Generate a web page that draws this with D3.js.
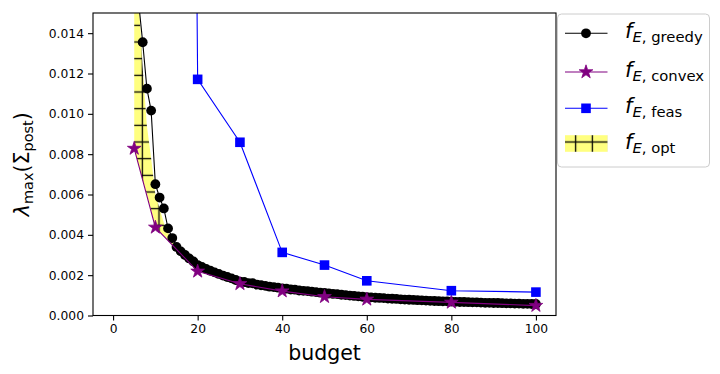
<!DOCTYPE html>
<html><head><meta charset="utf-8">
<script src="https://cdn.jsdelivr.net/npm/d3@7"></script>
<style>body{margin:0;background:#fff}svg{display:block}text{font-family:"DejaVu Sans",sans-serif}</style>
</head><body>
<svg id="c" width="720" height="374"></svg>
<script>
// ---- data ----
const greedyX = d3.range(5, 101);
const greedyY = [0.0300,0.0156,0.01355,0.01125,0.01016,0.00651,0.00585,0.00531,0.00432,0.00384,
 0.00340,0.00318,0.00300,0.00283,0.00268,0.00250,0.00241,0.00231,0.00222,0.00214,
 0.00206,0.00198,0.00191,0.00184,0.00176,0.00168,0.00166,0.00161,0.00160,0.00153,
 0.00150,0.00147,0.00143,0.00141,0.00138,0.00135,0.00133,0.00129,0.00128,0.00124,
 0.00122,0.00121,0.00118,0.00116,0.00113,0.00112,0.00109,0.00107,0.00106,0.00103,
 0.00101,0.00099,0.00097,0.00095,0.00093,0.00091,0.00090,0.00088,0.00087,0.00086,
 0.00084,0.00083,0.00082,0.00080,0.00079,0.00078,0.00077,0.00076,0.00075,0.00074,
 0.00073,0.00072,0.00071,0.00070,0.00070,0.00069,0.00068,0.00067,0.00067,0.00066,
 0.00065,0.00065,0.00064,0.00063,0.00063,0.00062,0.00062,0.00061,0.00060,0.00060,
 0.00059,0.00059,0.00058,0.00058,0.00057,0.00057];
const convexX = [5,10,20,30,40,50,60,80,100];
const convexY = [0.00828,0.00437,0.00219,0.00157,0.00121,0.00093,0.00080,0.00065,0.00049];
const feasX = [10,20,30,40,50,60,80,100];
const feasY = [0.25,0.01171,0.00859,0.00313,0.00250,0.00172,0.00123,0.00116];
const optX = [5,6,7,8,9,10,11,12,13,14,15,20];
const optLower = [0.00828,0.0075,0.0067,0.0060,0.0052,0.00437,0.00415,0.00394,0.00372,0.0035,0.00329,0.0022];
const optUpper = [0.0300,0.0158,0.0123,0.0094,0.0078,0.0060,0.0053,0.0046,0.0041,0.0037,0.0034,0.0024];
const xTicks = [0,20,40,60,80,100];
const yTicks = [0,0.002,0.004,0.006,0.008,0.010,0.012,0.014];

// ---- layout ----
const L=93, R=556, T=13, B=315.5;
const x = d3.scaleLinear([-4.75,104.75],[L,R]);
const y = d3.scaleLinear([0,0.015],[B,T]);
const svg = d3.select("#c");
const PER = 100/6;

const defs = svg.append("defs");
defs.append("clipPath").attr("id","clip").append("rect").attr("x",L).attr("y",T).attr("width",R-L).attr("height",B-T);
const pat = defs.append("pattern").attr("id","hatch").attr("patternUnits","userSpaceOnUse")
  .attr("x",9-PER/2).attr("y",8.67-PER/2).attr("width",PER).attr("height",PER);
pat.append("rect").attr("width",PER).attr("height",PER).attr("fill","#ffff80");
pat.append("line").attr("x1",PER/2).attr("x2",PER/2).attr("y1",0).attr("y2",PER).attr("stroke","#000").attr("stroke-width",1.3);
pat.append("line").attr("y1",PER/2).attr("y2",PER/2).attr("x1",0).attr("x2",PER).attr("stroke","#000").attr("stroke-width",1.3);

function starPath(Ro){const ri=Ro*0.381966;const p=[];for(let i=0;i<10;i++){const a=-Math.PI/2+i*Math.PI/5;const rr=i%2===0?Ro:ri;p.push([ (rr*Math.cos(a)).toFixed(2),(rr*Math.sin(a)).toFixed(2)]);}return "M"+p.join("L")+"Z";}

const g = svg.append("g").attr("clip-path","url(#clip)");
// opt fill
const optData = optX.map((v,i)=>({x:v,lo:optLower[i],hi:optUpper[i]}));
g.append("path").datum(optData).attr("fill","url(#hatch)")
  .attr("d",d3.area().x(d=>x(d.x)).y0(d=>y(d.lo)).y1(d=>y(d.hi)));

const line = d3.line().x(d=>x(d[0])).y(d=>y(d[1]));
// greedy
const gd = greedyX.map((v,i)=>[v,greedyY[i]]);
g.append("path").datum(gd).attr("d",line).attr("fill","none").attr("stroke","#000").attr("stroke-width",1.1);
g.selectAll("circle.gr").data(gd).join("circle").attr("cx",d=>x(d[0])).attr("cy",d=>y(d[1])).attr("r",4.9).attr("fill","#000");
// convex
const cd = convexX.map((v,i)=>[v,convexY[i]]);
g.append("path").datum(cd).attr("d",line).attr("fill","none").attr("stroke","#800080").attr("stroke-width",1.1);
g.selectAll("path.st").data(cd).join("path").attr("class","st").attr("d",starPath(7.2))
  .attr("transform",d=>`translate(${x(d[0])},${y(d[1])})`).attr("fill","#800080").attr("stroke","#800080").attr("stroke-width",0.8);
// feas
const fd = feasX.map((v,i)=>[v,feasY[i]]);
g.append("path").datum(fd).attr("d",line).attr("fill","none").attr("stroke","#0000ff").attr("stroke-width",1.1);
g.selectAll("rect.sq").data(fd).join("rect").attr("class","sq").attr("x",d=>x(d[0])-4.8).attr("y",d=>y(d[1])-4.8)
  .attr("width",9.6).attr("height",9.6).attr("fill","#0000ff");

// axes
const xa = svg.append("g").attr("transform",`translate(0,${B})`).call(d3.axisBottom(x).tickValues(xTicks).tickSize(5).tickPadding(4));
const ya = svg.append("g").attr("transform",`translate(${L},0)`).call(d3.axisLeft(y).tickValues(yTicks).tickFormat(d3.format(".3f")).tickSize(5).tickPadding(4));
[xa,ya].forEach(a=>{a.select(".domain").remove();a.selectAll("line").attr("stroke","#000").attr("stroke-width",1.1);
  a.selectAll("text").attr("font-size",12.3).attr("fill","#000").attr("font-family","DejaVu Sans");});
svg.append("rect").attr("x",L).attr("y",T).attr("width",R-L).attr("height",B-T).attr("fill","none").attr("stroke","#000").attr("stroke-width",1.1);

// labels
svg.append("text").attr("x",(L+R)/2).attr("y",360).attr("text-anchor","middle").attr("font-size",20.5).text("budget");
const yl = svg.append("text").attr("transform",`translate(29,${(T+B)/2}) rotate(-90)`).attr("text-anchor","middle").attr("font-size",20.5);
yl.append("tspan").attr("font-style","italic").text("λ");
yl.append("tspan").attr("font-size",14.5).attr("dy",4).text("max");
yl.append("tspan").attr("dy",-4).text("(Σ");
yl.append("tspan").attr("font-size",14.5).attr("dy",4).text("post");
yl.append("tspan").attr("dy",-4).text(")");

// legend
const lg = svg.append("g");
lg.append("rect").attr("x",557.5).attr("y",14).attr("width",152).attr("height",153).attr("rx",4)
  .attr("fill","#fff").attr("fill-opacity",0.8).attr("stroke","#cccccc").attr("stroke-width",1);
const items = [
  {k:"greedy",c:"#000",m:"circle",yy:33.3},
  {k:"convex",c:"#800080",m:"star",yy:72},
  {k:"feas",c:"#0000ff",m:"square",yy:108.3},
  {k:"opt",c:null,m:"patch",yy:143.5}];
items.forEach(it=>{
  if(it.m==="patch"){
    lg.append("rect").attr("x",565).attr("y",it.yy-8.3).attr("width",42.5).attr("height",16.6).attr("fill","url(#hatch)");
  } else {
    lg.append("line").attr("x1",565).attr("x2",607.5).attr("y1",it.yy).attr("y2",it.yy).attr("stroke",it.c).attr("stroke-width",1.1);
    if(it.m==="circle") lg.append("circle").attr("cx",586).attr("cy",it.yy).attr("r",4.9).attr("fill",it.c);
    if(it.m==="star") lg.append("path").attr("d",starPath(7.2)).attr("transform",`translate(586,${it.yy})`).attr("fill",it.c).attr("stroke",it.c).attr("stroke-width",0.8);
    if(it.m==="square") lg.append("rect").attr("x",586-4.8).attr("y",it.yy-4.8).attr("width",9.6).attr("height",9.6).attr("fill",it.c);
  }
  const t = lg.append("text").attr("x",625).attr("y",it.yy+5).attr("font-size",21);
  t.append("tspan").attr("font-style","italic").text("f");
  t.append("tspan").attr("font-style","italic").attr("font-size",14.8).attr("dy",4).text("E");
  t.append("tspan").attr("font-size",14.8).text(", "+it.k);
});
</script>
</body></html>
